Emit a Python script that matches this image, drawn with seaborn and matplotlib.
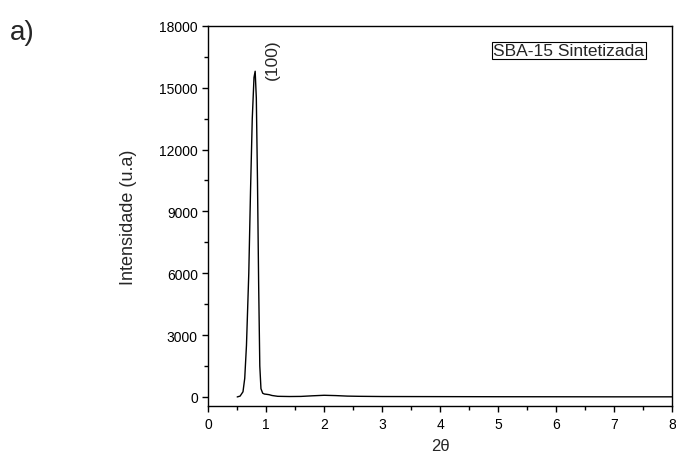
import matplotlib
matplotlib.use("Agg")
import matplotlib.pyplot as plt
import seaborn as sns
import pandas as pd
from matplotlib.ticker import MultipleLocator

two_theta = [0.50, 0.55, 0.60, 0.63, 0.66, 0.70, 0.73, 0.76, 0.79, 0.81, 0.83, 0.85, 0.87, 0.89,
             0.91, 0.94, 0.97, 1.00, 1.05, 1.10, 1.20, 1.40, 1.60, 1.80, 2.00, 2.20, 2.40,
             2.60, 3.00, 4.00, 5.00, 6.00, 7.00, 8.00]
intensity = [0, 40, 250, 900, 2500, 6000, 10000, 13500, 15500, 15800, 14500, 10500, 5500, 1500,
             400, 180, 140, 130, 110, 70, 30, 20, 25, 55, 80, 65, 40,
             30, 20, 15, 10, 8, 5, 5]

df = pd.DataFrame({"2theta": two_theta, "I": intensity})

sns.set_style("ticks")
plt.rcParams["font.family"] = ["Liberation Sans", "DejaVu Sans"]

fig = plt.figure(figsize=(6.76, 4.56), dpi=100)
ax = fig.add_axes([0.308, 0.107, 0.686, 0.834])
sns.lineplot(data=df, x="2theta", y="I", ax=ax, color="black", linewidth=1.0)

ax.set_xlim(0, 8)
ax.set_ylim(-450, 18000)
ax.xaxis.set_major_locator(MultipleLocator(1))
ax.xaxis.set_minor_locator(MultipleLocator(0.5))
ax.yaxis.set_major_locator(MultipleLocator(3000))
ax.yaxis.set_minor_locator(MultipleLocator(1500))
ax.tick_params(which="both", direction="out", labelsize=10, width=1, colors="black")
ax.tick_params(which="major", length=4)
ax.tick_params(which="minor", length=3)
for s in ax.spines.values():
    s.set_linewidth(1)
    s.set_color("black")

ax.set_xlabel("2θ", fontsize=12, labelpad=5)
ax.set_ylabel("Intensidade (u.a)", fontsize=13, labelpad=16)

ax.text(1.1, 15400, "(100)", rotation=90, fontsize=12.5, ha="center", va="bottom")
ax.text(0.94, 0.955, "SBA-15 Sintetizada", transform=ax.transAxes, ha="right", va="top",
        fontsize=12.5, bbox=dict(boxstyle="square,pad=0.08", fc="white", ec="black", lw=0.8))

fig.text(0.015, 0.928, "a)", fontsize=20, ha="left", va="center")

fig.savefig("out.png", dpi=100)
